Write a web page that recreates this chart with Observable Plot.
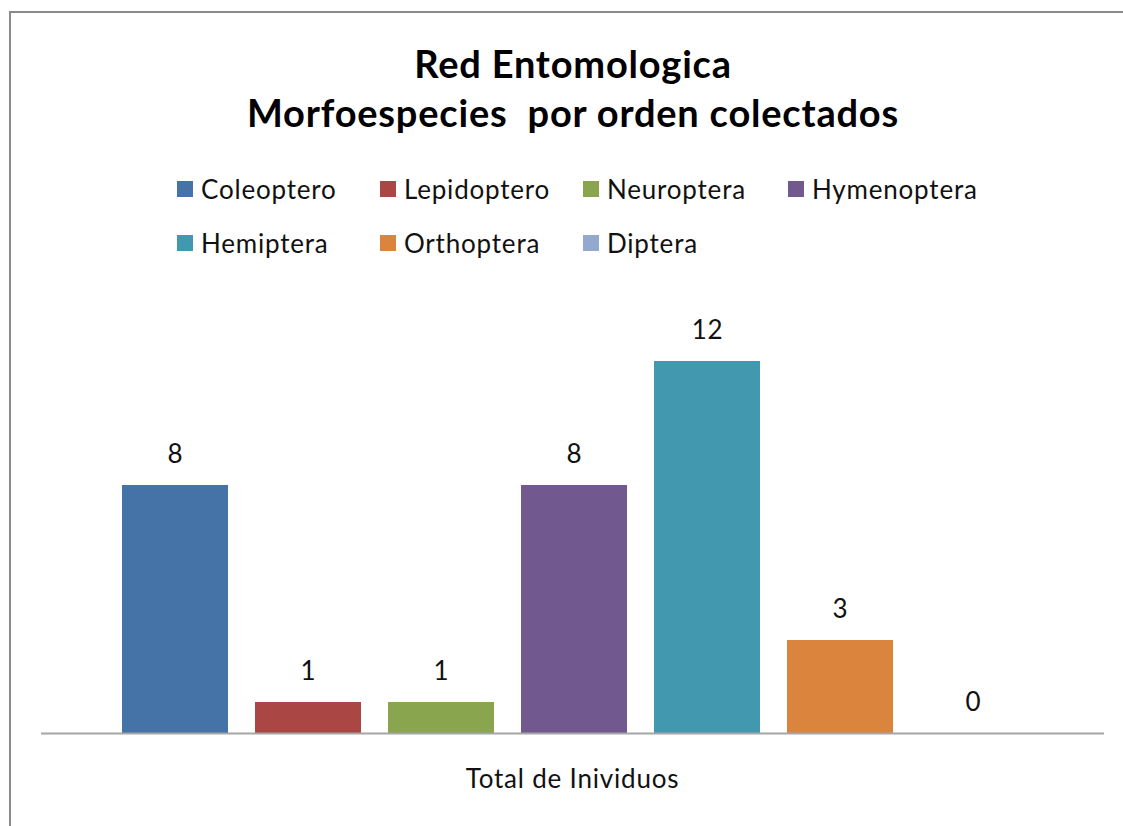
<!DOCTYPE html>
<html>
<head>
<meta charset="utf-8">
<script src="https://cdn.jsdelivr.net/npm/d3@7"></script>
<script src="https://cdn.jsdelivr.net/npm/@observablehq/plot@0.6"></script>
<style>
  html, body { margin: 0; padding: 0; background: #fff; }
  body { width: 1123px; height: 826px; overflow: hidden; position: relative; font-family: Lato, "Open Sans", sans-serif; color: #000; }
  #frame { position: absolute; left: 9px; top: 11px; width: 1300px; height: 1000px; border: 2px solid #8a8a8a; box-sizing: border-box; }
  #title { position: absolute; left: 0; width: 1146px; top: 39px; text-align: center; font-weight: 700; font-size: 38px; letter-spacing: 0.8px; line-height: 49px; white-space: pre; }
  .leg { position: absolute; display: flex; align-items: center; font-size: 26px; letter-spacing: 0.8px; white-space: nowrap; color: #111; }
  .sw { width: 16px; height: 16px; margin-right: 8px; box-sizing: border-box; }
  #chart { position: absolute; left: 0; top: 0; }
</style>
</head>
<body>
<div id="frame"></div>
<div id="title"></div>
<div id="legend"></div>
<div id="chart"></div>
<script>
const titleLines = ["Red Entomologica", "Morfoespecies  por orden colectados"];
const orders = ["Coleoptero", "Lepidoptero", "Neuroptera", "Hymenoptera", "Hemiptera", "Orthoptera", "Diptera"];
const counts = [8, 1, 1, 8, 12, 3, 0];
const colors = ["#4572A7", "#AA4643", "#89A54E", "#71588F", "#4198AF", "#DB843D", "#93A9CF"];
const category = "Total de Inividuos";

document.getElementById("title").textContent = titleLines.join("\n");

// legend: 4 columns, 2 rows
const legend = document.getElementById("legend");
const colX = [177, 380, 583, 788];
const rowY = [189, 243];
orders.forEach((o, i) => {
  const d = document.createElement("div");
  d.className = "leg";
  d.style.left = colX[i % 4] + "px";
  d.style.top = (rowY[Math.floor(i / 4)] - 16) + "px";
  d.style.height = "32px";
  const sw = document.createElement("div");
  sw.className = "sw";
  sw.style.background = colors[i];
  const t = document.createElement("span");
  t.textContent = o;
  d.appendChild(sw); d.appendChild(t);
  legend.appendChild(d);
});

const data = orders.map((o, i) => ({order: o, count: counts[i]}));

const chart = Plot.plot({
  width: 1123,
  height: 826,
  marginLeft: 41,
  marginRight: 16,
  marginTop: 299,
  marginBottom: 93,
  style: {fontFamily: "Lato, 'Open Sans', sans-serif", fontSize: "26px", letterSpacing: "0.8px", background: "transparent", color: "#000"},
  x: {domain: orders, paddingInner: 0.203, paddingOuter: 0.609, axis: null, round: false},
  y: {domain: [0, 14], axis: null},
  color: {domain: orders, range: colors},
  marks: [
    Plot.barY(data, {x: "order", y: "count", fill: "order"}),
    Plot.ruleY([0], {stroke: "#a6a6a6", strokeWidth: 2, insetRight: 3}),
    Plot.text(data, {x: "order", y: "count", text: d => String(d.count), dy: -31, fill: "#111", fontSize: 26}),
    Plot.text([category], {frameAnchor: "bottom", dx: -2, dy: 54, text: d => d, fill: "#111", fontSize: 26})
  ]
});
document.getElementById("chart").appendChild(chart);
</script>
</body>
</html>
